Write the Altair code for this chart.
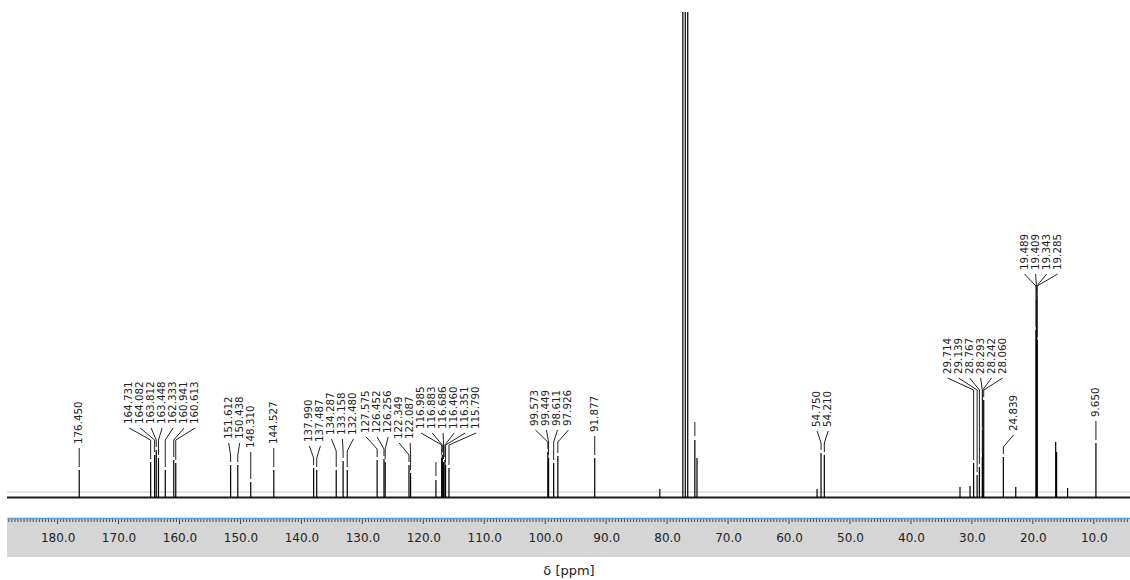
import altair as alt
import numpy as np
import pandas as pd

# Labelled 13C signals (ppm) and their peak intensities (arbitrary units)
label_shifts = [176.450, 164.731, 164.082, 163.812, 163.448, 162.333, 160.941, 160.613,
                151.612, 150.438, 148.310, 144.527,
                137.990, 137.487, 134.287, 133.158, 132.480,
                127.575, 126.452, 126.256, 122.349, 122.087,
                116.985, 116.883, 116.686, 116.460, 116.351, 115.790,
                99.573, 99.449, 98.611, 97.926, 91.877,
                54.750, 54.210,
                29.714, 29.139, 28.767, 28.293, 28.242, 28.060,
                24.839, 19.489, 19.409, 19.343, 19.285, 9.650]
label_heights = [22, 30, 37, 42, 34, 22, 32, 29,
                 27, 27, 10, 22,
                 24, 22, 22, 31, 22,
                 32, 33, 30, 27, 19,
                 34, 37, 30, 32, 27, 24,
                 40, 34, 29, 36, 34,
                 39, 37,
                 29, 17, 25, 35, 62, 92,
                 35, 162, 192, 196, 152, 49]

# Unlabelled signals: CDCl3 triplet (off scale) and small extra lines
other_shifts = [117.93, 81.20, 77.42, 77.02, 76.62, 75.45, 75.10,
                55.40, 31.95, 30.30, 22.80, 16.25, 16.10, 14.30]
other_heights = [12, 3, 3000, 3000, 3000, 52, 34,
                 3, 5, 6, 5, 50, 40, 4]

# Signals carrying a marker line without a value
marked_shifts = [117.93, 75.45]

# Axis
major_ticks = [180, 170, 160, 150, 140, 130, 120, 110, 100, 90, 80, 70, 60, 50, 40, 30, 20, 10]

X_LEFT, X_RIGHT = 188.3, 4.06
Y_LOW, Y_HIGH = -26, 480
BASE = -5.5
W, H = 1123, 506
PX_PER_PPM = W / (X_LEFT - X_RIGHT)
GAP = 11 / PX_PER_PPM          # label spacing in ppm

FONT = "DejaVu Sans"


def spread(desired, gap):
    """Spread label positions (increasing order) so neighbours stay `gap` apart."""
    clusters = []

    def start(c):
        return np.mean([desired[k] for k in c]) - (len(c) - 1) / 2 * gap

    for i in range(len(desired)):
        clusters.append([i])
        while len(clusters) > 1:
            a, b = clusters[-2], clusters[-1]
            if start(a) + len(a) * gap > start(b):
                clusters[-2:] = [a + b]
            else:
                break
    pos = [0.0] * len(desired)
    for c in clusters:
        s = start(c)
        for j, k in enumerate(c):
            pos[k] = s + j * gap
    return pos


order = sorted(range(len(label_shifts)), key=lambda i: -label_shifts[i])
desired = [-label_shifts[i] for i in order]
placed = spread(desired, GAP)
label_x = {order[j]: -placed[j] for j in range(len(order))}

# Label height: shared by neighbouring signals
anchor = {}
group = [order[0]]
groups = []
for a, b in zip(order[:-1], order[1:]):
    if label_shifts[a] - label_shifts[b] < GAP:
        group.append(b)
    else:
        groups.append(group)
        group = [b]
groups.append(group)
for g in groups:
    top = max(max(label_heights[i] for i in g) + 26, 44)
    for i in g:
        anchor[i] = top

labels = pd.DataFrame({
    "x": [float(label_x[i]) for i in range(len(label_shifts))],
    "y": [float(anchor[i]) for i in range(len(label_shifts))],
    "text": [f"{s:.3f}" for s in label_shifts],
})

segs = []
for i, (s, h) in enumerate(zip(label_shifts, label_heights)):
    a = anchor[i]
    segs.append({"x": float(label_x[i]), "x2": s, "y": a - 4, "y2": a - 16})
    if h + 3 < a - 16:
        segs.append({"x": s, "x2": s, "y": a - 16, "y2": h + 3})
for s in marked_shifts:
    h = other_heights[other_shifts.index(s)]
    segs.append({"x": s, "x2": s, "y": h + 4, "y2": h + 18})
connectors = pd.DataFrame(segs)

peaks = pd.DataFrame({
    "ppm": label_shifts + other_shifts,
    "h": label_heights + other_heights,
    "base": BASE,
})

minor = pd.DataFrame({"t": [float(t) for t in np.arange(4.5, 188.5, 0.5) if t % 10 != 0]})
major = pd.DataFrame({"t": major_ticks})
levels = pd.DataFrame({"x": [X_LEFT], "x2": [X_RIGHT], "zero": [0.0], "base": [BASE]})

xs = alt.Scale(domain=[X_LEFT, X_RIGHT], nice=False, zero=False)
ys = alt.Scale(domain=[Y_LOW, Y_HIGH], nice=False, zero=False)

x_axis = alt.Axis(values=major_ticks, format=".1f", title="δ [ppm]", grid=False,
                  ticks=False, domainColor="#5b9bd8", domainWidth=1.5,
                  labelFont=FONT, labelFontSize=12, labelColor="#222222", labelPadding=14,
                  titleFont=FONT, titleFontSize=13, titleFontWeight="normal",
                  titleColor="#222222", titlePadding=21, zindex=1)

band = alt.Chart(levels).mark_rect(color="#d5d5d5").encode(
    x=alt.X("x:Q", scale=xs, axis=x_axis), x2="x2:Q",
    y=alt.value(H), y2=alt.value(H + 39))

zero_line = alt.Chart(levels).mark_rule(color="#cccccc", strokeWidth=1).encode(
    x=alt.X("x:Q", scale=xs), x2="x2:Q",
    y=alt.Y("zero:Q", scale=ys, axis=None))

baseline = alt.Chart(levels).mark_rule(color="#1a1a1a", strokeWidth=2).encode(
    x=alt.X("x:Q", scale=xs), x2="x2:Q",
    y=alt.Y("base:Q", scale=ys))

peak_layer = alt.Chart(peaks).mark_rule(color="#000000", strokeWidth=1.2, clip=True).encode(
    x=alt.X("ppm:Q", scale=xs),
    y=alt.Y("base:Q", scale=ys),
    y2="h:Q",
)

conn_layer = alt.Chart(connectors).mark_rule(color="#222222", strokeWidth=1).encode(
    x=alt.X("x:Q", scale=xs), x2="x2:Q",
    y=alt.Y("y:Q", scale=ys), y2="y2:Q",
)

text_layer = alt.Chart(labels).mark_text(
    angle=270, align="left", baseline="middle", font=FONT, fontSize=10.3,
    color="#222222").encode(
    x=alt.X("x:Q", scale=xs), y=alt.Y("y:Q", scale=ys), text="text:N")

minor_ticks = alt.Chart(minor).mark_rule(color="#444444", strokeWidth=1).encode(
    x=alt.X("t:Q", scale=xs), y=alt.value(H + 1), y2=alt.value(H + 4))

major_tick_layer = alt.Chart(major).mark_rule(color="#444444", strokeWidth=1).encode(
    x=alt.X("t:Q", scale=xs), y=alt.value(H + 1), y2=alt.value(H + 6))

chart = alt.layer(
    band, zero_line, baseline, peak_layer, conn_layer, text_layer, minor_ticks, major_tick_layer
).resolve_scale(x="shared", y="shared").properties(
    width=W, height=H,
    padding={"left": 7, "top": 12, "right": 0, "bottom": 62},
    autosize="none",
    background="white",
).configure_view(stroke=None)

chart.save("out.html", embed_options={"renderer": "svg", "actions": False})
